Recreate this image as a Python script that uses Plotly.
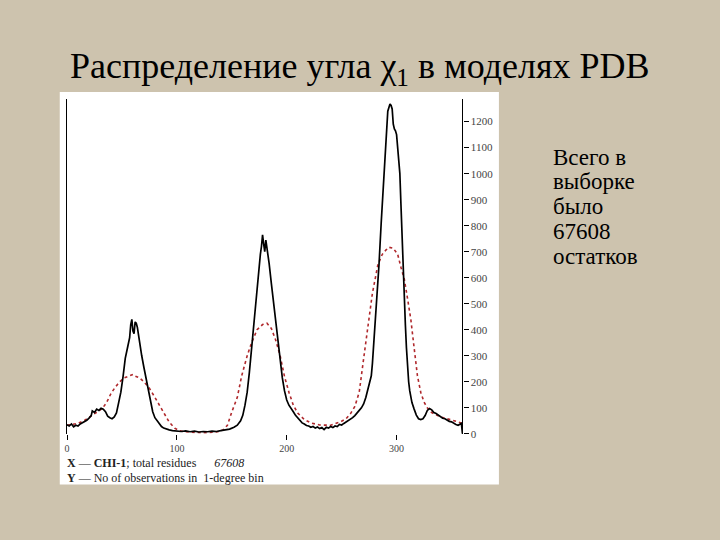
import plotly.graph_objects as go

# ---- data ----
chi_deg = [0, 2, 4, 6, 8, 10, 12, 14, 16, 18, 20, 22, 23, 25, 27, 29, 31, 33, 35, 37, 39, 41, 43, 45,
           47, 49, 51, 53, 55, 57, 58, 59, 60, 61, 62, 63, 64, 66, 68, 70, 72, 74, 76, 78, 80, 82, 84,
           86, 88, 90, 93, 96, 100, 104, 108, 112, 116, 120, 124, 128, 132, 136, 140, 144, 148, 152,
           155, 158, 160, 162, 164, 166, 168, 170, 172, 174, 176, 177, 178, 179, 180, 181, 182, 184,
           186, 188, 190, 192, 194, 196, 198, 200, 202, 204, 206, 208, 210, 212, 214, 216, 218, 220,
           222, 224, 226, 228, 230, 232, 234, 236, 238, 240, 242, 244, 246, 248, 250, 252, 254, 256,
           258, 260, 262, 264, 266, 268, 270, 272, 274, 276, 277, 278, 280, 282, 284, 286, 288, 290,
           292, 294, 295, 296, 297, 298, 299, 300, 301, 302, 303, 304, 305, 306, 307, 308, 309, 310,
           311, 312, 314, 316, 318, 320, 322, 324, 326, 328, 330, 332, 334, 336, 338, 340, 342, 344,
           346, 348, 350, 352, 354, 356, 358, 359, 360]
observed = [35, 30, 38, 27, 33, 30, 38, 42, 46, 52, 60, 70, 88, 82, 95, 90, 98, 95, 85, 68, 62, 58, 65, 80,
            120, 160, 220, 290, 330, 370, 420, 440, 395, 385, 430, 425, 410, 345, 300, 255, 210, 160, 122,
            85, 62, 50, 38, 28, 22, 18, 15, 12, 10, 9, 11, 8, 10, 7, 9, 8, 10, 9, 12, 14, 18, 25,
            33, 50, 71, 110, 160, 236, 330, 420, 505, 600, 690, 720, 765, 730, 700, 745, 720, 654,
            578, 500, 426, 345, 290, 215, 165, 130, 110, 95, 85, 71, 60, 52, 42, 38, 32, 30,
            25, 28, 22, 26, 20, 24, 16, 25, 22, 28, 24, 30, 28, 36, 34, 40, 45, 52,
            56, 62, 70, 78, 90, 100, 115, 140, 170, 200, 223, 270, 390, 530, 650, 810, 960, 1120,
            1240, 1268, 1262, 1249, 1190, 1172, 1165, 1150, 1100, 1060, 1000, 880, 750, 620, 520, 420, 330, 250,
            200, 165, 120, 95, 72, 58, 55, 58, 70, 90, 97, 92, 82, 78, 72, 68, 60, 58,
            52, 48, 46, 40, 36, 33, 38, 40, 0]

model_deg = [0, 10, 16, 22, 28, 32, 36, 40, 44, 48, 52, 56, 60, 62, 66, 70, 75, 80, 84, 88, 93, 98, 102,
             107, 115, 122, 130, 137, 142, 146, 150, 155, 159, 164, 168, 173, 178, 182, 186, 190, 194,
             198, 202, 206, 210, 216, 222, 230, 240, 249, 254, 258, 262, 266, 271, 275, 278, 283, 287,
             290, 293, 297, 301, 304, 307, 310, 313, 316, 319, 322, 325, 328, 331, 335, 340, 346, 352,
             356, 360]
expected = [33, 40, 52, 68, 84, 97, 120, 155, 180, 200, 215, 223, 228, 222, 215, 200, 175, 140, 109, 80, 45, 22, 12,
            8, 5, 4, 5, 8, 15, 33, 84, 140, 223, 300, 350, 400, 420, 425, 405, 360, 300,
            220, 160, 110, 80, 55, 42, 34, 33, 46, 58, 77, 105, 160, 320, 440, 540, 650, 690,
            705, 717, 713, 690, 640, 595, 520, 439, 330, 223, 160, 122, 100, 84, 75, 65, 58, 52,
            46, 40]

right_ticks = [0, 100, 200, 300, 400, 500, 600, 700, 800, 900, 1000, 1100, 1200]
x_ticks = [0, 100, 200, 300]

title_text = "Распределение угла χ<sub>1</sub> в моделях PDB"
side_lines = ["Всего в", "выборке", "было", "67608", "остатков"]
caption_lines = ["<b>X</b> — <b>CHI-1</b>; total residues      <i>67608</i>",
                 "<b>Y</b> — No of observations in  1-degree bin"]

W, H = 720, 540
BG = "#cdc3ae"
def px(x):
    return x / W
def py(y):
    return 1 - y / H

fig = go.Figure()
fig.add_trace(go.Scatter(x=model_deg, y=expected, mode="lines",
                         line=dict(color="#b0282c", width=1.6, dash="dot"),
                         hoverinfo="skip", showlegend=False))
fig.add_trace(go.Scatter(x=chi_deg, y=observed, mode="lines",
                         line=dict(color="#000000", width=1.7),
                         hoverinfo="skip", showlegend=False))

serif = "'Liberation Serif', 'Times New Roman', Times, serif"

fig.update_layout(
    width=W, height=H,
    margin=dict(l=0, r=0, t=0, b=0),
    paper_bgcolor=BG,
    plot_bgcolor="#ffffff",
    showlegend=False,
    font=dict(family=serif),
    xaxis=dict(domain=[px(64.3), px(461.4)], range=[0, 360],
               showgrid=False, zeroline=False, showline=False,
               tickvals=x_ticks, ticktext=[str(v) for v in x_ticks],
               ticks="outside", ticklen=5, tickwidth=1, tickcolor="#000",
               tickfont=dict(family=serif, size=10, color="#444")),
    yaxis=dict(domain=[py(438.7), py(100)], range=[0, (438.7 - 100) / 0.2631],
               side="right", showgrid=False, zeroline=False,
               showline=True, linecolor="#000", linewidth=1.3, mirror=True,
               tickvals=right_ticks, ticktext=[str(v) for v in right_ticks],
               ticks="outside", ticklen=5, tickwidth=1, tickcolor="#000",
               tickfont=dict(family=serif, size=11, color="#444")),
    shapes=[dict(type="rect", xref="paper", yref="paper",
                 x0=px(57), x1=px(498), y0=py(490), y1=py(93),
                 fillcolor="#ffffff", line=dict(width=0), layer="below")],
)

annotations = [dict(text=title_text, xref="paper", yref="paper", x=px(358), y=py(69),
                    xanchor="center", yanchor="middle", showarrow=False,
                    font=dict(family=serif, size=36, color="#000"))]
for i, t in enumerate(side_lines):
    annotations.append(dict(text=t, xref="paper", yref="paper", x=px(550), y=py(159 + 25 * i),
                            xanchor="left", yanchor="middle", showarrow=False,
                            font=dict(family=serif, size=23, color="#000")))
for i, t in enumerate(caption_lines):
    annotations.append(dict(text=t, xref="paper", yref="paper", x=px(62), y=py(468 + 15 * i),
                            xanchor="left", yanchor="middle", showarrow=False,
                            font=dict(family=serif, size=12, color="#222")))
fig.update_layout(annotations=annotations)

fig.write_html("out.html",
               config={"displayModeBar": False},
               post_script="document.body.style.margin='0';"
                           "document.body.style.background='" + BG + "';")
